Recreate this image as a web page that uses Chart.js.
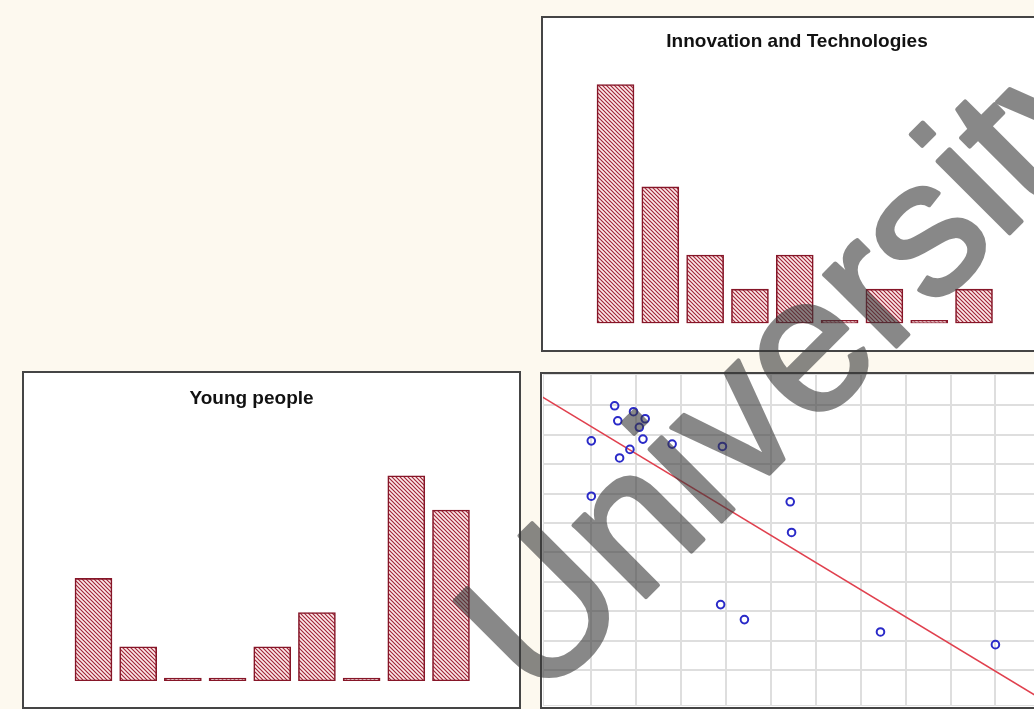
<!DOCTYPE html>
<html><head><meta charset="utf-8">
<script src="https://cdn.jsdelivr.net/npm/chart.js@4.4.1/dist/chart.umd.min.js"></script>
<style>
html,body{margin:0;padding:0;background:#fdf9ef;width:1034px;height:709px;overflow:hidden;position:relative;font-family:"Liberation Sans",Arial,sans-serif;}
.panel{position:absolute;background:#fff;border:2px solid #454545;box-sizing:border-box;}
canvas{position:absolute;}
#wm{position:absolute;left:0;top:0;pointer-events:none;}
</style></head><body>
<div class="panel" style="left:541px;top:16px;width:520px;height:336px"></div>
<div class="panel" style="left:22px;top:371px;width:499px;height:338px"></div>
<div class="panel" style="left:540px;top:372px;width:520px;height:337px"></div>
<canvas id="cTop" width="508" height="332" style="left:543px;top:18px"></canvas>
<canvas id="cYoung" width="455" height="334" style="left:24px;top:373px"></canvas>
<canvas id="cScatter" width="520" height="332" style="left:543px;top:374px"></canvas>
<svg id="wm" width="1034" height="709"><text x="538" y="705" transform="rotate(-45 538 705)" font-family="Liberation Sans, Arial, sans-serif" font-size="193" fill="#3a3a3a" stroke="#3a3a3a" stroke-width="4" stroke-linejoin="round" opacity="0.6">University</text></svg>
<script>
// ---- data ----
const categories = ['1','2','3','4','5','6','7','8','9'];
const innovationValues = [7, 4, 2, 1, 2, 0, 1, 0, 1];
const youngValues = [3, 1, 0, 0, 1, 2, 0, 6, 5];
const titleTop = 'Innovation and Technologies';
const titleYoung = 'Young people';
const scatterX = [1.52, 1.94, 2.2, 1.59, 2.07, 1.0, 2.15, 2.8, 3.92, 1.86, 1.63, 1.0, 5.43, 5.46, 3.88, 4.41, 7.44, 10.0];
const scatterY = [9.98, 9.78, 9.54, 9.47, 9.25, 8.79, 8.85, 8.68, 8.6, 8.5, 8.21, 6.91, 6.72, 5.68, 3.23, 2.72, 2.3, 1.87];
const trendX = [-0.2, 11.6];
const trendY = [10.38, -0.51];

function hatch() {
  const s = 4;
  const c = document.createElement('canvas');
  c.width = s; c.height = s;
  const g = c.getContext('2d');
  g.fillStyle = '#fdeaea';
  g.fillRect(0, 0, s, s);
  g.strokeStyle = 'rgba(155,25,45,0.95)';
  g.lineWidth = 1.15;
  g.beginPath();
  g.moveTo(-1, -1); g.lineTo(s + 1, s + 1);
  g.moveTo(s - 1, -1); g.lineTo(s + 1, 1);
  g.moveTo(-1, s - 1); g.lineTo(1, s + 1);
  g.stroke();
  return g.createPattern(c, 'repeat');
}

function barChart(id, title, values, xmin, xmax, ymax, padTop, padBottom) {
  return new Chart(document.getElementById(id), {
    type: 'bar',
    data: {
      labels: categories,
      datasets: [{
        data: values.map((v, i) => ({x: i, y: v})),
        backgroundColor: hatch(),
        borderColor: '#861628',
        borderWidth: 1.6,
        borderSkipped: false,
        barThickness: 37,
        minBarLength: 3
      }]
    },
    options: {
      responsive: false, animation: false,
      layout: {padding: {left: 0, right: 0, top: 0, bottom: padBottom}, autoPadding: false},
      plugins: {
        legend: {display: false}, tooltip: {enabled: false},
        title: {display: true, text: title, color: '#111',
          font: {family: '"Liberation Sans", Arial, sans-serif', size: 19, weight: 'bold'},
          padding: {top: padTop, bottom: 0}}
      },
      scales: {
        x: {type: 'linear', display: false, offset: false, min: xmin, max: xmax},
        y: {display: false, min: 0, max: ymax}
      }
    }
  });
}

barChart('cTop', titleTop, innovationValues, -1.618, 9.718, 7.93, 12, 26.7);
barChart('cYoung', titleYoung, youngValues, -1.555, 8.627, 7.93, 14, 26);

new Chart(document.getElementById('cScatter'), {
  type: 'scatter',
  data: {
    datasets: [
      {
        type: 'scatter',
        data: scatterX.map((x, i) => ({x: x, y: scatterY[i]})),
        pointStyle: 'circle', pointRadius: 3.8, borderWidth: 2,
        borderColor: '#2a2ac8', backgroundColor: 'rgba(0,0,0,0)', order: 1
      },
      {
        type: 'line',
        data: trendX.map((x, i) => ({x: x, y: trendY[i]})),
        borderColor: '#e0404e', borderWidth: 1.6, pointRadius: 0, fill: false, order: 2
      }
    ]
  },
  options: {
    responsive: false, animation: false,
    layout: {padding: 0, autoPadding: false},
    plugins: {legend: {display: false}, tooltip: {enabled: false}},
    scales: {
      x: {type: 'linear', min: -0.0757, max: 11.505,
        ticks: {display: false, stepSize: 1},
        grid: {color: '#dedede', lineWidth: 2, drawTicks: false},
        border: {display: false}},
      y: {type: 'linear', min: -0.214, max: 11.06,
        ticks: {display: false, stepSize: 1},
        grid: {color: '#dedede', lineWidth: 2, drawTicks: false},
        border: {display: false}}
    }
  }
});
</script>
</body></html>
